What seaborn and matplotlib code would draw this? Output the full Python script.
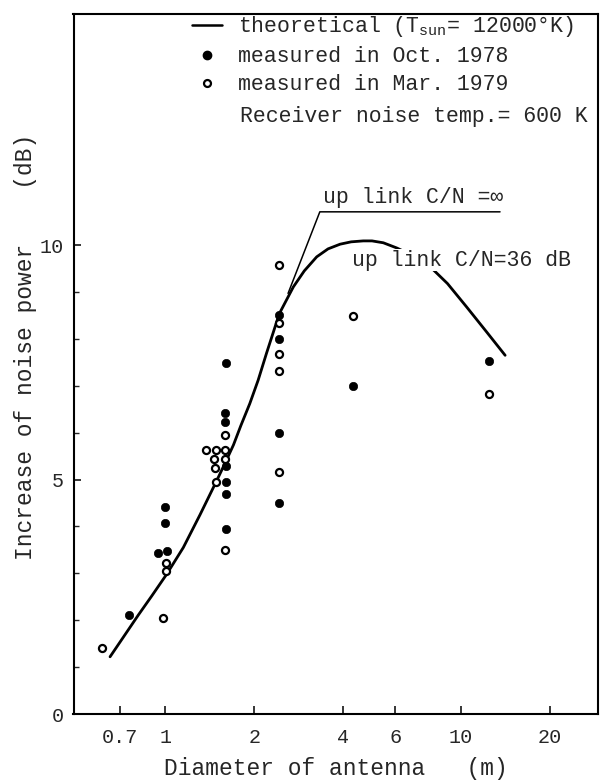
import numpy as np
import matplotlib
matplotlib.use("Agg")
import matplotlib.pyplot as plt
import matplotlib.ticker as mticker
from matplotlib.lines import Line2D
import seaborn as sns

# ---------------------------
# Data
# ---------------------------
# theoretical curve, up link C/N = 36 dB
theo_x = [0.65, 0.81, 0.90, 1.01, 1.15, 1.31, 1.49, 1.60, 1.70, 1.80, 1.93, 2.06, 2.20, 2.43,
          2.71, 2.95, 3.25, 3.55, 3.9, 4.25, 4.67, 5.0, 5.46, 6.06, 6.9, 7.86, 9.0, 10.45, 12.2, 14.1]
theo_y = [1.22, 2.11, 2.52, 2.98, 3.55, 4.25, 4.97, 5.38, 5.74, 6.15, 6.62, 7.12, 7.70, 8.54,
          9.11, 9.45, 9.75, 9.92, 10.02, 10.07, 10.09, 10.09, 10.05, 9.94, 9.77, 9.54, 9.18, 8.68, 8.15, 7.65]

# branch for up link C/N = infinity
inf_x = [2.60, 3.33, 13.55]
inf_y = [8.97, 10.71, 10.71]

# measured in Oct. 1978 (filled)
oct_x = [0.756, 0.943, 1.013, 0.995, 0.995, 1.60, 1.59, 1.59, 1.60, 1.60, 1.60, 1.60,
         2.42, 2.42, 2.42, 2.42, 4.31, 12.4]
oct_y = [2.11, 3.44, 3.48, 4.07, 4.41, 7.48, 6.43, 6.22, 5.29, 4.94, 4.70, 3.94,
         8.52, 7.99, 6.00, 4.51, 7.00, 7.53]

# measured in Mar. 1979 (open)
mar_x = [0.61, 0.98, 1.008, 1.003, 1.59, 1.488, 1.476, 1.461, 1.59, 1.373, 1.488, 1.59, 1.59,
         2.42, 2.42, 2.42, 2.42, 2.42, 4.31, 12.4]
mar_y = [1.40, 2.05, 3.04, 3.23, 3.49, 4.94, 5.24, 5.44, 5.44, 5.64, 5.64, 5.64, 5.96,
         9.57, 8.33, 7.68, 7.31, 5.17, 8.49, 6.82]

x_ticks = [0.7, 1, 2, 4, 6, 10, 20]
x_ticklabels = ["0.7", "1", "2", "4", "6", "10", "20"]
y_ticks = [0, 5, 10]
y_minor = [1, 2, 3, 4, 6, 7, 8, 9]

# ---------------------------
# Style
# ---------------------------
sns.set_style("white")
mono = ["Liberation Mono", "DejaVu Sans Mono"]
plt.rcParams["font.family"] = mono
plt.rcParams["mathtext.fontset"] = "custom"
plt.rcParams["mathtext.rm"] = "Liberation Mono"
plt.rcParams["mathtext.it"] = "Liberation Mono"

fig = plt.figure(figsize=(6.06, 7.82), dpi=100)
ax = fig.add_axes([73.5 / 606, 1 - 714 / 782, (598 - 73.5) / 606, (714 - 13.5) / 782])

# curves
sns.lineplot(x=theo_x, y=theo_y, sort=False, estimator=None, color="black", linewidth=2.0, ax=ax)
sns.lineplot(x=inf_x, y=inf_y, sort=False, estimator=None, color="black", linewidth=1.1, ax=ax)

# points
sns.scatterplot(x=oct_x, y=oct_y, color="black", s=36, edgecolor="black", linewidth=0.5, ax=ax, zorder=4)
sns.scatterplot(x=mar_x, y=mar_y, facecolor="white", s=26, edgecolor="black", linewidth=1.6, ax=ax, zorder=4)

ax.set_xscale("log")
ax.set_xlim(0.489, 29.06)
ax.set_ylim(0, 14.94)

ax.xaxis.set_major_locator(mticker.FixedLocator(x_ticks))
ax.xaxis.set_major_formatter(mticker.FixedFormatter(x_ticklabels))
ax.xaxis.set_minor_locator(mticker.NullLocator())
ax.yaxis.set_major_locator(mticker.FixedLocator(y_ticks))
ax.yaxis.set_minor_locator(mticker.FixedLocator(y_minor))

ax.tick_params(axis="x", which="major", direction="in", length=6, width=1.3, pad=10,
               labelsize=14.5, bottom=True, top=False)
ax.tick_params(axis="y", which="major", direction="in", length=5, width=1.3, pad=7,
               labelsize=14.5, left=True, right=False)
ax.tick_params(axis="y", which="minor", direction="in", length=3.5, width=1.0, left=True, right=False)

for sp in ax.spines.values():
    sp.set_color("black")
    sp.set_linewidth(1.5)

ax.set_xlabel("Diameter of antenna   (m)", fontsize=16.5, labelpad=7)
ax.set_ylabel("Increase of noise power    (dB)", fontsize=16.5)
ax.yaxis.set_label_coords(-0.07, 0.524)

# annotations
ax.text(3.41, 11.02, "up link C/N =\u221e", fontsize=15.5, va="center", ha="left", family=mono)
ax.text(4.27, 9.68, "up link C/N=36 dB", fontsize=15.5, va="center", ha="left", family=mono,
        bbox=dict(facecolor="white", edgecolor="none", pad=0.5), zorder=3)

# legend
handles = [
    Line2D([], [], color="black", linewidth=1.8),
    Line2D([], [], color="black", marker="o", linestyle="none", markersize=6),
    Line2D([], [], color="black", marker="o", linestyle="none", markersize=5,
           markerfacecolor="white", markeredgewidth=1.6),
]
labels = [
    r"theoretical (T$_{\rm sun}$= 12000°K)",
    "measured in Oct. 1978",
    "measured in Mar. 1979",
]
ax.legend(handles, labels, loc="upper left", bbox_to_anchor=(0.226, 0.999),
          frameon=False, borderpad=0, borderaxespad=0, handlelength=1.4,
          handletextpad=0.75, labelspacing=0.33, fontsize=15.5)
ax.text(0.3174, 0.8527, "Receiver noise temp.= 600 K", transform=ax.transAxes,
        fontsize=15.5, va="center", ha="left")

fig.savefig("out.png", dpi=100)
